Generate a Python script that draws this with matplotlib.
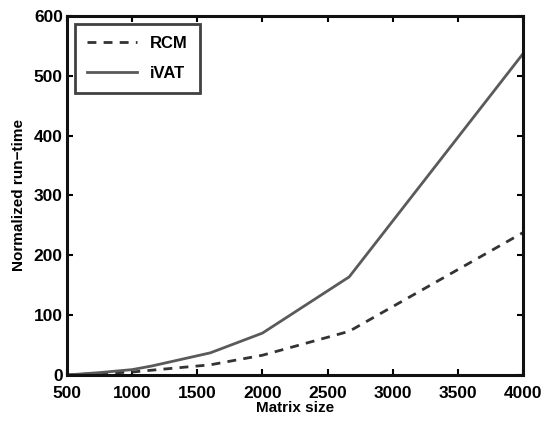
import matplotlib
matplotlib.use("Agg")
import matplotlib.pyplot as plt

# matrix sizes and normalized run-times
ivat_sizes = [500, 750, 1000, 1150, 1600, 2000, 2666, 4000]
ivat_times = [0, 4, 9, 15, 37, 70, 164, 537]
rcm_sizes = [500, 1000, 1600, 2000, 2666, 4000]
rcm_times = [0, 5, 17, 33, 73, 238]

x_ticks = [500, 1000, 1500, 2000, 2500, 3000, 3500, 4000]
y_ticks = [0, 100, 200, 300, 400, 500, 600]


def main():
    plt.rcParams["font.family"] = ["Liberation Sans", "DejaVu Sans"]
    plt.rcParams["font.weight"] = "bold"

    fig = plt.figure(figsize=(5.43, 4.21), dpi=100)
    ax = fig.add_axes([0.1234, 0.1093, 0.8398, 0.8527])

    ax.plot(rcm_sizes, rcm_times, color="#333333", linestyle=(0, (3.2, 2.6)),
            linewidth=2.0, label="RCM")
    ax.plot(ivat_sizes, ivat_times, color="#5a5a5a", linestyle="-",
            linewidth=2.0, label="iVAT")

    ax.set_xlim(500, 4000)
    ax.set_ylim(0, 600)
    ax.set_xticks(x_ticks)
    ax.set_yticks(y_ticks)
    ax.tick_params(direction="in", length=4, width=1.5, labelsize=12.5,
                   top=True, right=True)
    ax.tick_params(axis="x", pad=8)
    ax.tick_params(axis="y", pad=3)
    for lab in ax.get_xticklabels() + ax.get_yticklabels():
        lab.set_fontweight("bold")
    for sp in ax.spines.values():
        sp.set_linewidth(2.2)
        sp.set_color("#111111")

    ax.set_xlabel("Matrix size", fontsize=11, fontweight="bold", labelpad=0)
    ax.set_ylabel("Normalized run\u2212time", fontsize=11, fontweight="bold",
                  labelpad=6)

    leg = ax.legend(loc="upper left", fontsize=12, frameon=True, fancybox=False,
                    borderpad=0.7, handlelength=3.0, labelspacing=0.9,
                    borderaxespad=0.5)
    leg.get_frame().set_edgecolor("#111111")
    leg.get_frame().set_linewidth(2.0)
    for t in leg.get_texts():
        t.set_fontweight("bold")

    fig.savefig("out.png", dpi=100)
    plt.close(fig)


if __name__ == "__main__":
    main()
